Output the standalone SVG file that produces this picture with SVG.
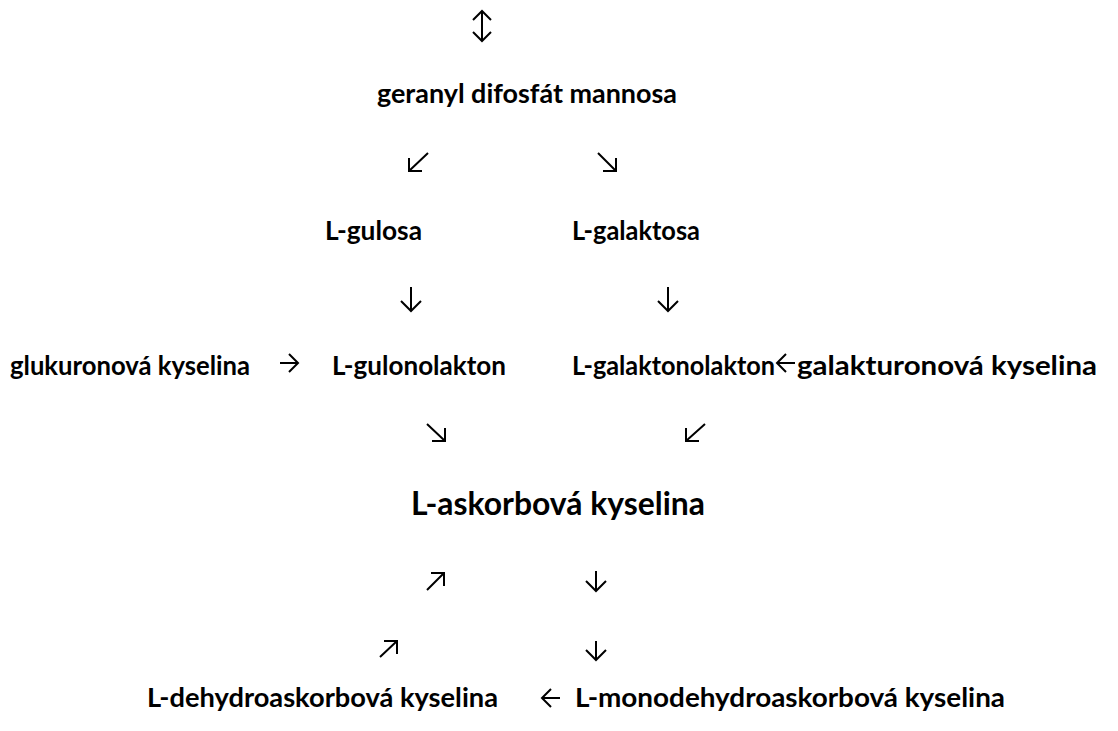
<svg xmlns="http://www.w3.org/2000/svg" width="1118" height="731" viewBox="0 0 1118 731">
<style>
.t{font-family:Lato,"Open Sans","Liberation Sans",sans-serif;font-weight:700;font-size:27px;fill:#000}
.big{font-size:33px}
.a{fill:none;stroke:#000;stroke-width:2;stroke-linecap:butt;stroke-linejoin:miter}
</style>
<rect width="1118" height="731" fill="#fff"/>
<g id="connectors">
<path class="a" d="M482 11V41M473 20L482 11L491 20M473 32L482 41L491 32"/>
<path class="a" d="M428 153L409 171M409 158V171H422"/>
<path class="a" d="M598 153L616 171M616 158V171H603"/>
<path class="a" d="M411 287V311M401 301L411 311L421 301"/>
<path class="a" d="M668 287V311M658 301L668 311L678 301"/>
<path class="a" d="M280 363H298M289 354L298 363L289 372"/>
<path class="a" d="M795 363H777M786 354L777 363L786 372"/>
<path class="a" d="M427 424L445 441M445 428V441H432"/>
<path class="a" d="M705 424L686 441M686 428V441H699"/>
<path class="a" d="M427 590L444 573M431 573H444V586"/>
<path class="a" d="M596 571V591M586 581L596 591L606 581"/>
<path class="a" d="M380 657L397 641M384 641H397V654"/>
<path class="a" d="M596 641V660M586 650L596 660L606 650"/>
<path class="a" d="M560 698H542M551 689L542 698L551 707"/>
</g>
<g id="n1"><text class="t" x="377" y="103" textLength="300" lengthAdjust="spacingAndGlyphs">geranyl difosfát mannosa</text></g>
<g id="n2"><text class="t" x="325" y="240" textLength="97" lengthAdjust="spacingAndGlyphs">L-gulosa</text></g>
<g id="n3"><text class="t" x="572" y="240" textLength="128" lengthAdjust="spacingAndGlyphs">L-galaktosa</text></g>
<g id="n4"><text class="t" x="10" y="375" textLength="240" lengthAdjust="spacingAndGlyphs">glukuronová kyselina</text></g>
<g id="n5"><text class="t" x="332" y="375" textLength="174" lengthAdjust="spacingAndGlyphs">L-gulonolakton</text></g>
<g id="n6"><text class="t" x="572" y="375" textLength="203" lengthAdjust="spacingAndGlyphs">L-galaktonolakton</text></g>
<g id="n7"><text class="t" x="797" y="375" textLength="300" lengthAdjust="spacingAndGlyphs">galakturonová kyselina</text></g>
<g id="n8"><text class="t big" x="411" y="515" textLength="294" lengthAdjust="spacingAndGlyphs">L-askorbová kyselina</text></g>
<g id="n9"><text class="t" x="147" y="707" textLength="351" lengthAdjust="spacingAndGlyphs">L-dehydroaskorbová kyselina</text></g>
<g id="n10"><text class="t" x="575" y="707" textLength="430" lengthAdjust="spacingAndGlyphs">L-monodehydroaskorbová kyselina</text></g>
</svg>
